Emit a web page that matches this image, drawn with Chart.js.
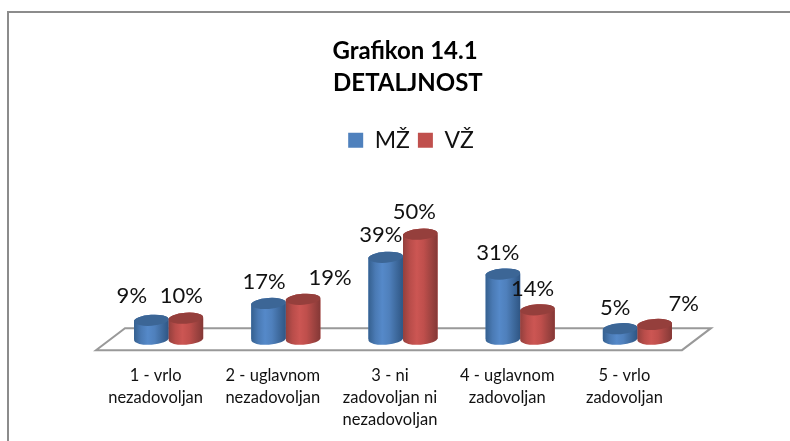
<!DOCTYPE html>
<html>
<head>
<meta charset="utf-8">
<script src="https://cdn.jsdelivr.net/npm/chart.js@4/dist/chart.umd.min.js"></script>
<style>
    html, body { margin: 0; padding: 0; background: #fff; }
    #wrap { position: relative; width: 790px; height: 441px; }
    #frame { position: absolute; left: 7px; top: 11px; width: 783px; height: 430px;
             border-left: 2px solid #8c8c8c; border-top: 2px solid #8c8c8c; box-sizing: border-box; }
</style>
</head>
<body>
<div id="wrap">
    <div id="frame"></div>
    <canvas id="chart" width="790" height="441"></canvas>
</div>
<script>
const categories = [
    ['1 - vrlo', 'nezadovoljan'],
    ['2 - uglavnom', 'nezadovoljan'],
    ['3 - ni', 'zadovoljan ni', 'nezadovoljan'],
    ['4 - uglavnom', 'zadovoljan'],
    ['5 - vrlo', 'zadovoljan']
];
const mzValues = [9, 17, 39, 31, 5];
const vzValues = [10, 19, 50, 14, 7];

// hand placed labels in the original, offset from the top of each cylinder
const labelOffsets = {
    0: [[-19.5, -24], [-4.5, -22], [-5, -22], [-5, -21], [-5, -21]],
    1: [[-4.5, -22], [27, -21], [-6, -22], [-5, -21], [29, -21]]
};

const shades = [
    { stops: ['#35608f', '#4a7ab4', '#5589c9', '#4f80bc', '#3f6b9f', '#2f5684'], top: '#3c6696' },
    { stops: ['#93403d', '#b94d4a', '#cc5653', '#bf4f4c', '#a04441', '#843836'], top: '#953f3c' }
];

const ELLIPSE_RY = 5.5;
const TILT = -0.07;

function drawCylinder(ctx, bar, shade) {
    const rx = bar.width / 2;
    const grad = ctx.createLinearGradient(bar.x - rx, 0, bar.x + rx, 0);
    shade.stops.forEach((c, i) => grad.addColorStop(i / (shade.stops.length - 1), c));

    ctx.beginPath();
    ctx.ellipse(bar.x, bar.base, rx, ELLIPSE_RY, TILT, 0, Math.PI);
    ctx.ellipse(bar.x, bar.y, rx, ELLIPSE_RY, TILT, Math.PI, Math.PI * 2);
    ctx.closePath();
    ctx.fillStyle = grad;
    ctx.fill();

    ctx.beginPath();
    ctx.ellipse(bar.x, bar.y, rx, ELLIPSE_RY, TILT, 0, Math.PI * 2);
    ctx.fillStyle = shade.top;
    ctx.fill();
}

const cylinderPlugin = {
    id: 'cylinders',
    afterLayout(chart) {
        // legend and title sit right of the plot centre in the original
        chart.legend.left += 8;
        chart.legend.right += 8;
        chart.titleBlock.left += 2;
        chart.titleBlock.right += 2;
    },
    beforeDatasetsDraw(chart) {
        // floor of the 3D plot
        const { ctx, scales: { x, y } } = chart;
        const base = y.getPixelForValue(0);
        ctx.save();
        ctx.beginPath();
        ctx.moveTo(x.left - 14, base + 11);
        ctx.lineTo(x.right - 14, base + 11);
        ctx.lineTo(x.right + 15, base - 11);
        ctx.lineTo(x.left + 15, base - 11);
        ctx.closePath();
        ctx.fillStyle = '#fff';
        ctx.fill();
        ctx.strokeStyle = '#999';
        ctx.lineWidth = 2;
        ctx.stroke();
        ctx.restore();
    },
    afterDatasetsDraw(chart) {
        const { ctx } = chart;
        const metas = chart.data.datasets.map((d, i) => chart.getDatasetMeta(i));
        ctx.save();
        categories.forEach((c, i) => {
            metas.forEach((meta, s) => drawCylinder(ctx, meta.data[i], shades[s]));
        });
        ctx.font = '22px Lato';
        ctx.fillStyle = '#111';
        ctx.textAlign = 'center';
        ctx.textBaseline = 'middle';
        metas.forEach((meta, s) => {
            meta.data.forEach((bar, i) => {
                const off = labelOffsets[s][i];
                ctx.fillText(chart.data.datasets[s].data[i] + '%', bar.x + off[0], bar.y + off[1]);
            });
        });
        ctx.restore();
    }
};

new Chart(document.getElementById('chart').getContext('2d'), {
    type: 'bar',
    data: {
        labels: categories,
        datasets: [
            { label: 'MŽ', data: mzValues, backgroundColor: '#4f81bd', borderWidth: 0 },
            { label: 'VŽ', data: vzValues, backgroundColor: '#c0504d', borderWidth: 0 }
        ]
    },
    options: {
        responsive: false,
        animation: false,
        layout: { padding: { left: 110, right: 94, top: 35, bottom: -8 } },
        categoryPercentage: 0.59,
        barPercentage: 1,
        scales: {
            x: {
                grid: { display: false },
                border: { display: false },
                ticks: {
                    color: '#111',
                    font: { family: 'Lato', size: 16.5, lineHeight: 1.33 },
                    padding: 18,
                    labelOffset: -13,
                    maxRotation: 0
                }
            },
            y: { display: false, min: 0, max: 84.5 }
        },
        plugins: {
            tooltip: { enabled: false },
            title: {
                display: true,
                text: ['Grafikon 14.1', ' DETALJNOST'],
                color: '#000',
                font: { family: 'Lato', size: 24, weight: 'bold', lineHeight: 1.35 },
                padding: { top: 0, bottom: 21 }
            },
            legend: {
                position: 'top',
                labels: {
                    color: '#111',
                    font: { family: 'Lato', size: 23 },
                    boxWidth: 15,
                    boxHeight: 15,
                    padding: 8
                }
            }
        }
    },
    plugins: [cylinderPlugin]
});
</script>
</body>
</html>
